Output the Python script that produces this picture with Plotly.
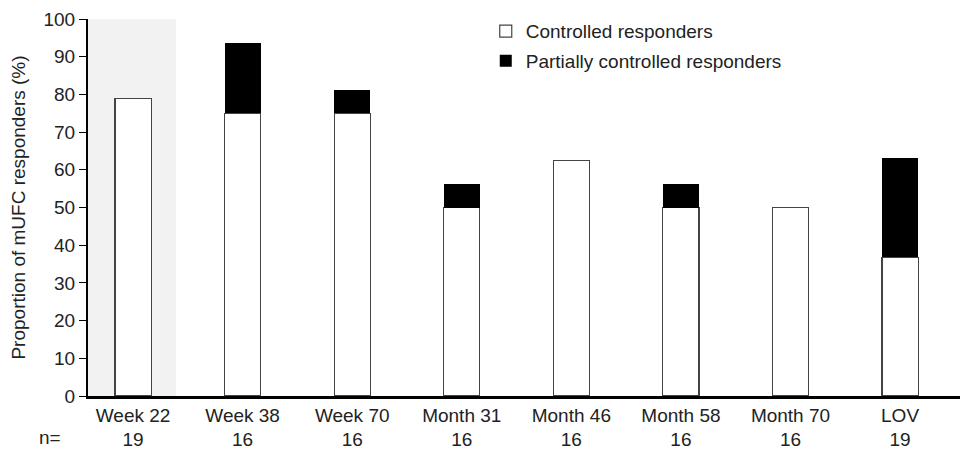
import plotly.graph_objects as go

categories = ["Week 22", "Week 38", "Week 70", "Month 31", "Month 46", "Month 58", "Month 70", "LOV"]
n_values = [19, 16, 16, 16, 16, 16, 16, 19]
controlled = [78.9, 75.0, 75.0, 50.0, 62.5, 50.0, 50.0, 36.8]
partial = [0.0, 18.75, 6.25, 6.25, 0.0, 6.25, 0.0, 26.4]
y_ticks = [0, 10, 20, 30, 40, 50, 60, 70, 80, 90, 100]

FONT = "Liberation Sans, Arial, sans-serif"
FS = 19
pos = list(range(len(categories)))
ticktext = [f"{c}<br>{n}" for c, n in zip(categories, n_values)]

fig = go.Figure()
fig.add_trace(go.Bar(
    x=pos, y=controlled, name="Controlled responders", width=0.33,
    legendgroup="a",
    marker=dict(color="white", line=dict(color="#444444", width=1.2)),
))
fig.add_trace(go.Bar(
    x=pos, y=partial, name="Partially controlled responders", width=0.33,
    legendgroup="b",
    marker=dict(color="black", line=dict(color="black", width=0)),
))

fig.add_shape(type="rect", xref="x", yref="y", x0=-0.411, x1=0.393, y0=0, y1=100,
              fillcolor="#f2f2f2", line=dict(width=0), layer="below")

fig.add_annotation(text="n=", xref="paper", yref="paper", x=-0.043, y=-0.111,
                   showarrow=False, xanchor="center", yanchor="middle",
                   font=dict(family=FONT, size=FS, color="#222"))

# page body adds an 8px offset, so the figure is 8px smaller than the window
fig.update_layout(
    width=960, height=447,
    barmode="stack",
    plot_bgcolor="white", paper_bgcolor="white",
    margin=dict(l=80, r=0, t=11, b=59, autoexpand=False),
    font=dict(family=FONT, size=FS, color="#222"),
    showlegend=True,
    legend=dict(x=0.452, y=1.018, xanchor="left", yanchor="top",
                traceorder="grouped", tracegroupgap=2, bgcolor="rgba(0,0,0,0)",
                font=dict(family=FONT, size=FS, color="#222")),
    xaxis=dict(range=[-0.411, 7.62], tickvals=pos, ticktext=ticktext,
               showline=True, linecolor="black", linewidth=2.5,
               ticks="", showgrid=False, zeroline=False, automargin=False,
               tickfont=dict(family=FONT, size=FS, color="#222")),
    yaxis=dict(range=[0, 100], tickvals=y_ticks, showline=True, linecolor="black",
               linewidth=2, ticks="outside", ticklen=7, tickcolor="black",
               showgrid=False, zeroline=False, automargin=False,
               title=dict(text="Proportion of mUFC responders (%)", standoff=22,
                          font=dict(family=FONT, size=FS, color="#222")),
               tickfont=dict(family=FONT, size=FS, color="#222")),
)

fig.write_html("out.html")
